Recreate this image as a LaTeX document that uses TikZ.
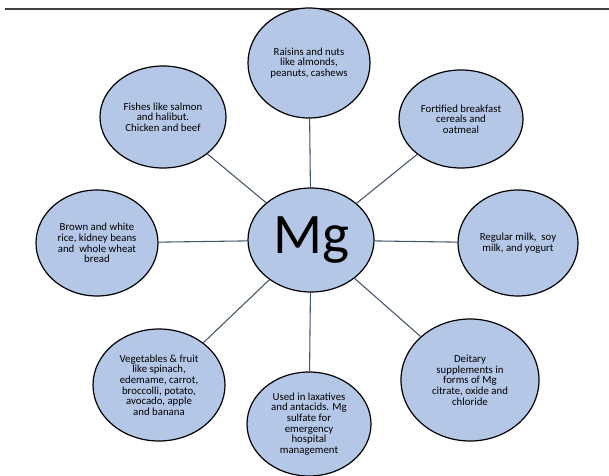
\documentclass[tikz,border=0pt]{standalone}
\usepackage{fontspec}
\setmainfont{Carlito}
\usepackage{xcolor}
\usetikzlibrary{shapes.geometric}
\definecolor{bubble}{RGB}{180,199,231}
\definecolor{spoke}{RGB}{68,84,106}

\begin{document}
\begin{tikzpicture}[x=0.75pt,y=0.75pt,yscale=-1,xscale=1,
  food/.style={ellipse, draw=black, line width=0.9pt, fill=bubble, inner sep=0pt, align=center, font=\fontsize{8.1}{8}\selectfont},
  link/.style={draw=spoke, line width=0.8pt}]
\useasboundingbox (0,0) rectangle (609,475);

%Top rule
\draw [draw=black!75, line width=1pt] (5,9) -- (609,9) ;

%Centre
\node [food, minimum width=94.5pt, minimum height=78pt, font=\fontsize{43}{43}\selectfont] (mg) at (311,240) {Mg};

%Sources
\node [food, minimum width=91.5pt, minimum height=82.5pt] (raisins) at (309,63) {Raisins and nuts\\like almonds,\\peanuts, cashews};
\node [food, minimum width=94.5pt, minimum height=76.5pt] (fishes) at (163,117) {Fishes like salmon\\and halibut.\\Chicken and beef};
\node [food, minimum width=93pt, minimum height=73.5pt] (cereals) at (461,119) {Fortified breakfast\\cereals and\\oatmeal};
\node [food, minimum width=91.5pt, minimum height=79.5pt] (rice) at (97,243) {Brown and white\\rice, kidney beans\\and~ whole wheat\\bread};
\node [food, minimum width=90pt, minimum height=79.5pt] (milk) at (518,243) {Regular milk,~ soy\\milk, and yogurt};
\node [food, minimum width=99pt, minimum height=84pt] (veg) at (159,385) {Vegetables \& fruit\\like spinach,\\edemame, carrot,\\broccolli, potato,\\avocado, apple\\and banana};
\node [food, minimum width=103.5pt, minimum height=91.5pt] (supp) at (470,380) {Deitary\\supplements in\\forms of Mg\\citrate, oxide and\\chloride};
\node [food, minimum width=93pt, minimum height=78pt] (laxative) at (309,424) {Used in laxatives\\and antacids. Mg\\sulfate for\\emergency\\hospital\\management};

%Spokes
\foreach \src in {raisins,fishes,cereals,rice,milk,veg,supp,laxative}
  \draw [link] (mg) -- (\src) ;

\end{tikzpicture}
\end{document}
